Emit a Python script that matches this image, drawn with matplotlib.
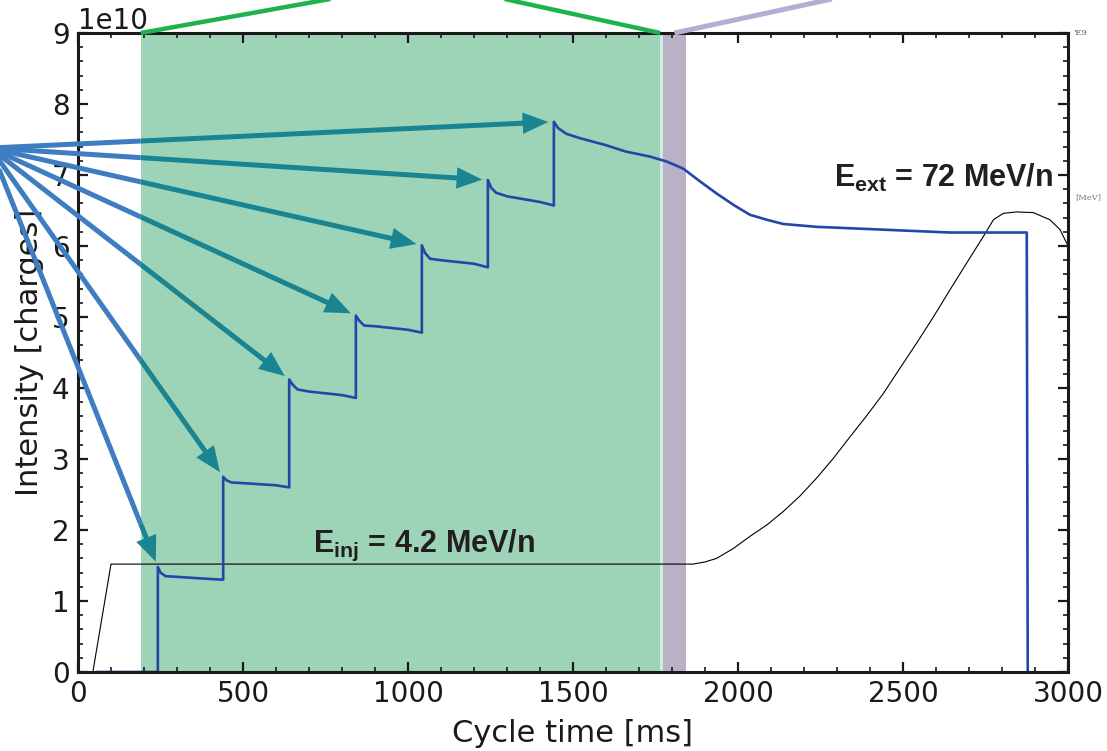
import numpy as np
import matplotlib
matplotlib.use("Agg")
import matplotlib.pyplot as plt
from matplotlib.ticker import MultipleLocator
from matplotlib.patches import FancyArrowPatch

plt.rcParams['font.family'] = ['DejaVu Sans']
plt.rcParams['mathtext.fontset'] = 'custom'
plt.rcParams['mathtext.rm'] = 'Liberation Sans'
plt.rcParams['mathtext.bf'] = 'Liberation Sans:bold'
plt.rcParams['mathtext.it'] = 'Liberation Sans:italic'

# ---------------- data ----------------
# beam intensity (units of 1e10 charges) vs cycle time [ms]
intensity_t = [60, 242, 242, 250, 265, 300, 400, 440,
               440, 450, 465, 500, 600, 640,
               640, 650, 665, 700, 800, 842,
               842, 852, 867, 900, 1000, 1042,
               1042, 1052, 1067, 1100, 1200, 1242,
               1242, 1252, 1267, 1300, 1400, 1442,
               1442, 1455, 1480, 1520, 1600, 1660, 1733, 1784, 1834, 1885,
               1935, 1986, 2036, 2087, 2137, 2238, 2339, 2440, 2541, 2642,
               2743, 2875, 2878]
intensity_v = [0.0, 0.0, 1.48, 1.40, 1.35, 1.34, 1.31, 1.30,
               2.75, 2.70, 2.67, 2.66, 2.63, 2.60,
               4.12, 4.05, 3.98, 3.95, 3.90, 3.86,
               5.02, 4.95, 4.88, 4.87, 4.82, 4.78,
               6.01, 5.90, 5.82, 5.80, 5.75, 5.70,
               6.93, 6.82, 6.75, 6.70, 6.62, 6.57,
               7.75, 7.66, 7.58, 7.52, 7.42, 7.33, 7.26, 7.19, 7.09, 6.91,
               6.74, 6.58, 6.44, 6.37, 6.31, 6.27, 6.25, 6.23, 6.21, 6.19,
               6.19, 6.19, 0.0]

# injection steps (time, peak intensity) targeted by the arrows
step_times = [242, 440, 640, 842, 1042, 1242, 1442]
step_peaks = [1.48, 2.75, 4.12, 5.02, 6.01, 6.93, 7.75]

# magnetic cycle energy curve (drawn in intensity units, 1e10)
energy_t = [45, 100, 1864, 1900, 1935, 1986, 2036, 2087, 2137, 2188, 2238,
            2289, 2339, 2390, 2440, 2491, 2541, 2592, 2642, 2693, 2743,
            2774, 2804, 2845, 2895, 2945, 2976, 2996, 3000]
energy_v = [0.0, 1.52, 1.52, 1.55, 1.60, 1.74, 1.91, 2.07, 2.26, 2.48, 2.73,
            3.01, 3.31, 3.61, 3.92, 4.28, 4.63, 5.00, 5.38, 5.76, 6.13,
            6.37, 6.46, 6.48, 6.47, 6.37, 6.23, 6.04, 6.00]

# phases
injection_phase = (190, 1764)
gap_phase = (1764, 1773)
rf_phase = (1773, 1842)

inj_label = r'$\mathbf{E}_{\mathbf{inj}}$ = 4.2 MeV/n'
ext_label = r'$\mathbf{E}_{\mathbf{ext}}$ = 72 MeV/n'

SCALE = 1e10

# ---------------- figure ----------------
W, H = 1107, 751
fig = plt.figure(figsize=(W / 100, H / 100), dpi=100)
ax = fig.add_axes([78 / W, 1 - 672 / H, 990 / W, 639 / H])

green_fill = '#9dd4b8'
purple_fill = '#b9b2c7'
blue_arrow = '#3d7dc0'
teal_arrow = '#1b8491'
curve_blue = '#2347a6'

ax.axvspan(*injection_phase, color=green_fill, lw=0, zorder=0.5)
ax.axvspan(*gap_phase, color='#d2ebdf', lw=0, zorder=0.5)
ax.axvspan(*rf_phase, color=purple_fill, lw=0, zorder=0.5)

ax.plot(energy_t, np.array(energy_v) * SCALE, color='black', lw=0.8, zorder=3)
ax.plot(intensity_t, np.array(intensity_v) * SCALE, color=curve_blue, lw=1.9,
        zorder=4)

ax.set_xlim(0, 3000)
ax.set_ylim(0, 9 * SCALE)

# zoom call-out lines at the top
ax.plot([injection_phase[0], injection_phase[0] + 1200], [9 * SCALE, 10 * SCALE],
        color='#1db24b', lw=3.2, clip_on=False, zorder=7, solid_capstyle='butt')
ax.plot([injection_phase[1], injection_phase[1] - 984], [9 * SCALE, 10 * SCALE],
        color='#1db24b', lw=3.2, clip_on=False, zorder=7, solid_capstyle='butt')
rf_mid = (rf_phase[0] + rf_phase[1]) / 2
ax.plot([rf_mid, rf_mid + 996], [9 * SCALE, 10 * SCALE],
        color='#b8acd4', lw=3.6, clip_on=False, zorder=7, solid_capstyle='butt')

# arrows fanning out to each injection step
ox, ov = -265, 7.38
for t, p in zip(step_times, step_peaks):
    x0 = injection_phase[0]
    frac = (x0 - ox) / (t - ox)
    cv = ov + frac * (p - ov)
    ax.plot([ox, x0], [ov * SCALE, cv * SCALE], color=blue_arrow, lw=3.6,
            solid_capstyle='butt', clip_on=False, zorder=6)
    arr = FancyArrowPatch((x0, cv * SCALE), (t, p * SCALE),
                          arrowstyle='-|>,head_length=1.2,head_width=0.5',
                          mutation_scale=10, color=teal_arrow, lw=3.6,
                          shrinkA=0, shrinkB=4, zorder=6, clip_on=False,
                          capstyle='butt', joinstyle='miter')
    ax.add_patch(arr)

# annotations
ax.text(712, 1.69 * SCALE, inj_label, family='Liberation Sans', weight='bold',
        fontsize=22, color='#231f20', ha='left', va='baseline', zorder=8)
ax.text(2291, 6.83 * SCALE, ext_label, family='Liberation Sans', weight='bold',
        fontsize=22, color='#231f20', ha='left', va='baseline', zorder=8)
fig.text(1073 / W, 1 - 33 / H, "'E9", family='DejaVu Serif', fontsize=6,
         color='#555555', ha='left', va='center')
fig.text(1075 / W, 1 - 197 / H, "[MeV]", family='DejaVu Serif', fontsize=6,
         color='#777777', ha='left', va='center')

# axes styling
ax.xaxis.set_major_locator(MultipleLocator(500))
ax.xaxis.set_minor_locator(MultipleLocator(100))
ax.yaxis.set_major_locator(MultipleLocator(1 * SCALE))
ax.yaxis.set_minor_locator(MultipleLocator(0.2 * SCALE))
ax.tick_params(which='both', direction='in', top=True, right=True,
               labelsize=20, pad=6, colors='#1a1a1a')
ax.tick_params(which='major', length=7, width=1.6)
ax.tick_params(which='minor', length=3.5, width=1.2)
ax.yaxis.get_offset_text().set_fontsize(20)
for s in ax.spines.values():
    s.set_linewidth(2.2)
    s.set_color('#1a1a1a')
    s.set_zorder(5)

ax.set_xlabel('Cycle time [ms]', fontsize=22, labelpad=8, color='#1a1a1a')
ax.set_ylabel('Intensity [charges]', fontsize=22, labelpad=6, color='#1a1a1a')

fig.savefig('out.png', dpi=100)
